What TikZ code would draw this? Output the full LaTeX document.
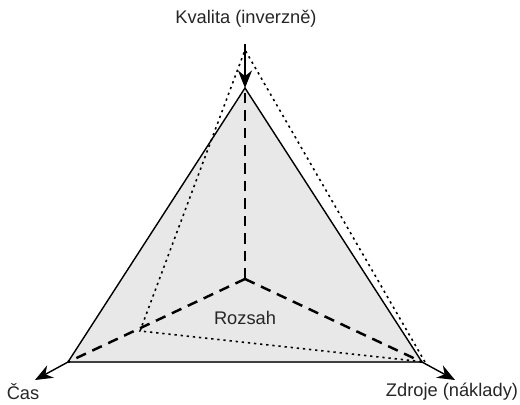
\documentclass[tikz,border=0pt]{standalone}
\usepackage{fontspec}
\setmainfont{Liberation Sans}
\usetikzlibrary{arrows.meta}
\begin{document}
\begin{tikzpicture}[x=0.02cm,y=-0.02cm,
  axis/.style={line width=0.8pt,-{Stealth[length=10pt,width=8pt]}},
  dashline/.style={line width=1.4pt,dash pattern=on 6pt off 4pt},
  dotline/.style={line width=0.9pt,dash pattern=on 1.3pt off 2.2pt},
  lbl/.style={font=\fontsize{10.4}{12}\selectfont,text=black!85}]
\useasboundingbox (0,0) rectangle (520,405);
\coordinate (T) at (245,88);
\coordinate (L) at (68,362);
\coordinate (R) at (422,362);
\coordinate (C) at (245,279);
\coordinate (Ttop) at (245,44);
\coordinate (Lend) at (35,380);
\coordinate (Rend) at (455,380);
\coordinate (DT) at (245,50);
\coordinate (DL) at (140,331);
\coordinate (DR) at (425,362);
\fill[black!9] (T) -- (L) -- (R) -- cycle;
\draw[line width=0.8pt] (L) -- (T) -- (R);
\draw[line width=1.2pt,black!75] (L) -- (R);
\draw[dotline] (DR) -- (DT) -- (DL) -- (DR);
\draw[dashline] (C) -- (T);
\draw[dashline] (C) -- (L);
\draw[dashline] (C) -- (R);
\draw[axis] (Ttop) -- (T);
\draw[axis] (L) -- (Lend);
\draw[axis] (R) -- (Rend);
\node[lbl] (kv) at (246,19) {Kvalita (inverzně)};
\node[lbl] (cas) at (23,392) {Čas};
\node[lbl] (zd) at (452,392) {Zdroje (náklady)};
\node[lbl] (ro) at (245,318) {Rozsah};
\end{tikzpicture}
\end{document}
